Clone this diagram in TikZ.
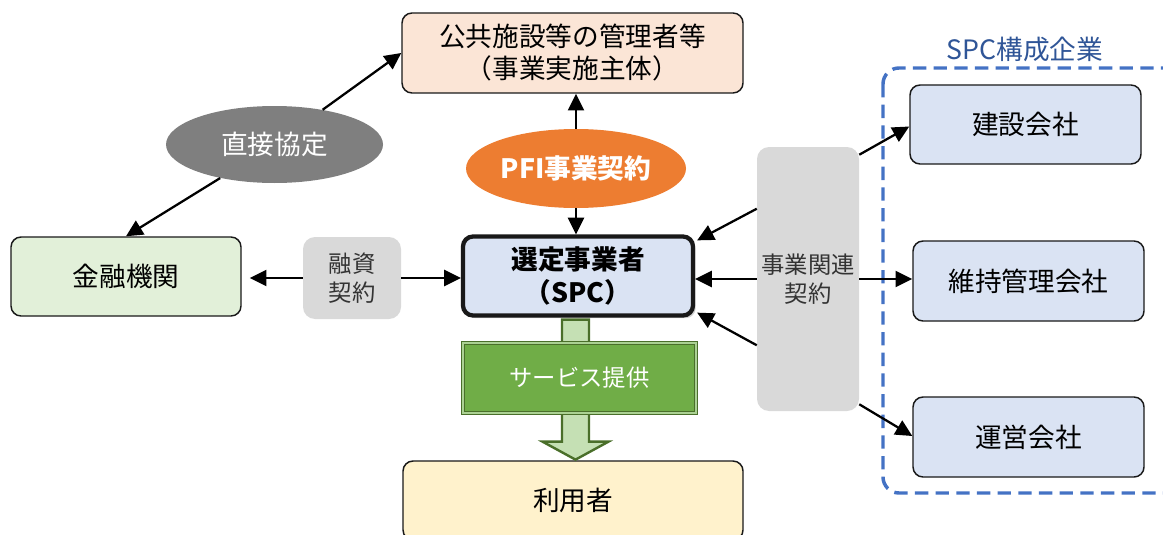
\documentclass[tikz,border=0pt]{standalone}
\usepackage{fontspec}
\setmainfont{Noto Sans CJK JP}
\usetikzlibrary{arrows.meta,calc,shapes.geometric,shadows}
\definecolor{peach}{HTML}{FBE5D6}
\definecolor{lgreen}{HTML}{E2F0D9}
\definecolor{lblue}{HTML}{DAE3F3}
\definecolor{lyellow}{HTML}{FFF2CC}
\definecolor{lgray}{HTML}{D9D9D9}
\definecolor{dgray}{HTML}{7F7F7F}
\definecolor{orng}{HTML}{ED7D31}
\definecolor{grn}{HTML}{70AD47}
\definecolor{dgrn}{HTML}{4A6F2A}
\definecolor{pgrn}{HTML}{C5E0B4}
\definecolor{dblue}{HTML}{4472C4}
\definecolor{tblue}{HTML}{2F5597}
\tikzset{
  wh/.style 2 args={minimum width=0.75*#1, minimum height=0.75*#2},
  base/.style={font=\fontsize{20}{24}\selectfont, align=center, inner sep=0pt},
  boxnode/.style={base, draw=black!90, line width=1.1pt, rounded corners=7.5pt},
  graybox/.style={base, fill=lgray, rounded corners=9pt, text=black!80, font=\fontsize{17.5}{22}\selectfont},
  ellnode/.style={base, ellipse, text=white},
  arr/.style={line width=1.7pt, -{Triangle[length=12.5pt,width=12pt]}},
}
\begin{document}
\begin{tikzpicture}[x=0.75pt,y=-0.75pt]
\useasboundingbox (0,0) rectangle (1163,535);
\clip (0,0) rectangle (1163,535);
% nodes
\node[boxnode, fill=peach, wh={341}{80}] (top) at (572.5,53) {公共施設等の管理者等\\（事業実施主体）};
\node[ellnode, fill=dgray, wh={217}{77}] (direct) at (274.5,144.5) {直接協定};
\node[ellnode, fill=orng, wh={220}{79}, font=\fontsize{20}{24}\selectfont\bfseries] (pfi) at (576,168.5) {PFI事業契約};
\node[boxnode, fill=lgreen, wh={230}{79}] (fin) at (126,276.5) {金融機関};
\node[graybox, wh={98}{82}] (loan) at (352,278) {融資\\契約};
\node[boxnode, fill=lblue, line width=3.2pt, wh={230}{79}, font=\fontsize{20}{25}\selectfont\bfseries, drop shadow={opacity=0.35, shadow xshift=2pt, shadow yshift=-2pt}] (spc) at (578,276) {選定事業者\\（SPC）};
\node[boxnode, fill=lyellow, wh={340}{79}] (user) at (573,500.5) {利用者};
\node[graybox, wh={102}{264}] (rel) at (808,279) {事業関連\\契約};
% dashed group
\draw[dblue, line width=2.6pt, dash pattern=on 10pt off 5.5pt, rounded corners=12pt] (883,68) rectangle (1180,493);
\node[base, text=tblue, font=\fontsize{20}{24}\selectfont] (grp) at (1025,49) {SPC構成企業};
\node[boxnode, fill=lblue, wh={231}{79}] (c1) at (1025.5,124.5) {建設会社};
\node[boxnode, fill=lblue, wh={231}{80}] (c2) at (1028.5,281) {維持管理会社};
\node[boxnode, fill=lblue, wh={231}{80}] (c3) at (1028.5,437) {運営会社};
% service arrow
\coordinate (sa) at ($(spc.south)+(-2.5,2)$);
\draw[dgrn, fill=pgrn, line width=1.8pt, line join=miter]
  ($(sa)+(-13.5,0)$) -- ($(sa)+(13.5,0)$) -- ($(sa)+(13.5,122)$) -- ($(sa)+(33,122)$)
  -- ($(sa)+(0,140)$) -- ($(sa)+(-33,122)$) -- ($(sa)+(-13.5,122)$) -- cycle;
\node[base, fill=grn, draw=dgrn, line width=0.7pt, double=pgrn!70!grn, double distance=1.4pt, wh={233}{70}, text=white, font=\fontsize{17.5}{22}\selectfont] (svc) at (579.5,378) {サービス提供};
% connectors
\draw[arr] (direct) -- (top.west);
\draw[arr] (direct) -- (fin.north);
\draw[arr] (pfi.north) -- (pfi.north |- top.south);
\draw[arr] (pfi.south) -- (pfi.south |- spc.north);
\draw[arr, shorten >=6pt] (loan.west) -- (loan.west -| fin.east);
\draw[arr] (loan.east) -- (loan.east -| spc.west);
\draw[arr] ($(rel.north west)+(0,62)$) -- ($(spc.north east)+(2,6)$);
\draw[arr] (rel.west) -- (rel.west -| spc.east);
\draw[arr] ($(rel.south west)+(0,-66)$) -- ($(spc.south east)+(2,-5)$);
\draw[arr] ($(rel.north east)+(0,8)$) -- ($(c1.west)+(0,2)$);
\draw[arr] (rel.east) -- (rel.east -| c2.west);
\draw[arr] ($(rel.south east)+(0,-7)$) -- ($(c3.west)+(0,-1)$);
\end{tikzpicture}
\end{document}
